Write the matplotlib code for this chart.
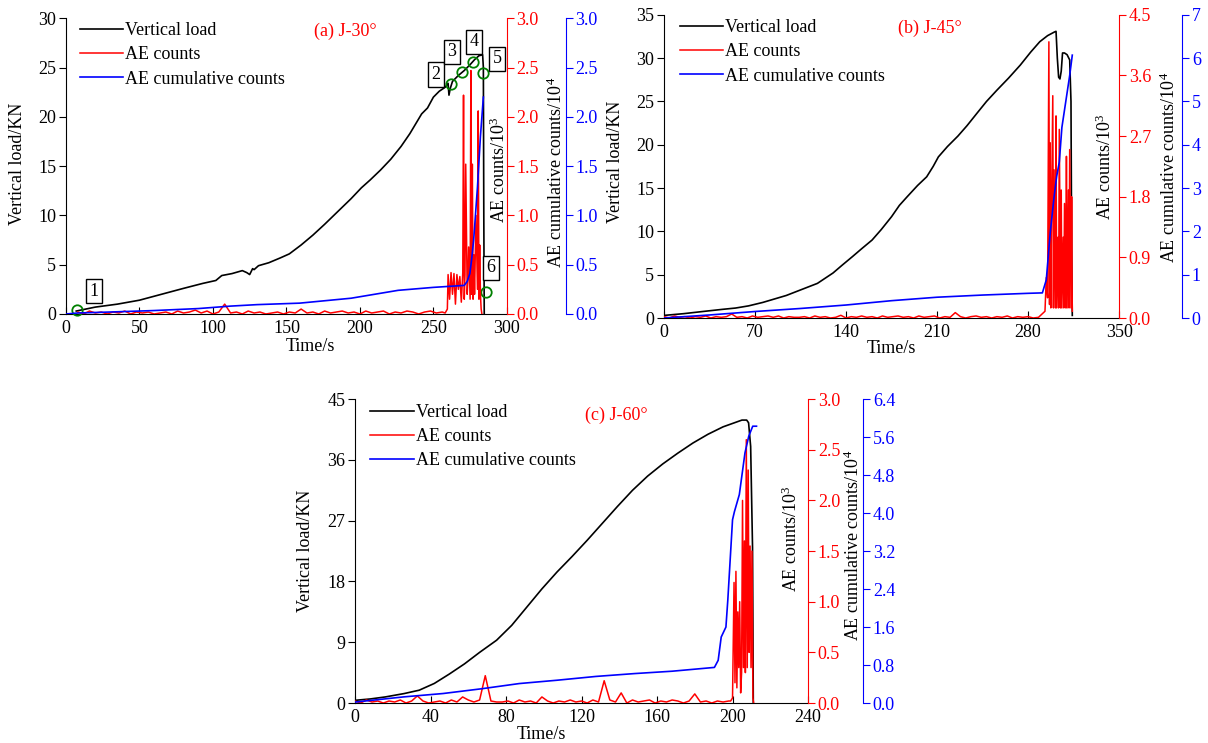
import numpy as np
import matplotlib
matplotlib.use('Agg')
import matplotlib.pyplot as plt

plt.rcParams['font.family'] = ['Liberation Serif', 'DejaVu Serif']
plt.rcParams['mathtext.fontset'] = 'custom'
plt.rcParams['mathtext.rm'] = 'Liberation Serif'
plt.rcParams['mathtext.it'] = 'Liberation Serif:italic'
plt.rcParams['font.size'] = 13

# ---------------- (a) J-30 ----------------
load_t_a = [7, 20, 35, 50, 65, 80, 93, 102, 106, 113, 120, 123, 125, 127, 128, 131, 138, 146, 152,
            160, 168, 176, 185, 194, 201, 207, 214, 221, 228, 234, 238, 242, 246, 250, 254, 258,
            260, 260.6, 261.5, 263, 267, 271, 275, 278, 281, 283.5, 284, 284.3, 284.6]
load_a = [0.3, 0.7, 1.0, 1.4, 2.0, 2.6, 3.1, 3.4, 3.9, 4.1, 4.4, 4.2, 4.0, 4.6, 4.5, 4.9, 5.2, 5.7, 6.1,
          7.0, 8.0, 9.1, 10.4, 11.7, 12.8, 13.6, 14.6, 15.7, 17.0, 18.3, 19.3, 20.3, 20.9, 22.0, 22.6, 23.0,
          23.4, 22.2, 22.9, 23.6, 24.2, 24.7, 25.3, 25.8, 26.2, 26.3, 25.0, 10.0, 0.0]

quiet_a = [0.02, 0.0, 0.03, 0.01, 0.02, 0.0, 0.02, 0.01, 0.03, 0.0,
           0.02, 0.01, 0.02, 0.0, 0.01, 0.02, 0.0, 0.03, 0.01, 0.02,
           0.04, 0.01, 0.03, 0.0, 0.02, 0.10, 0.01, 0.02, 0.0, 0.03,
           0.01, 0.02, 0.0, 0.01, 0.02, 0.0, 0.02, 0.01, 0.05, 0.01,
           0.02, 0.0, 0.03, 0.01, 0.02, 0.03, 0.01, 0.02, 0.0, 0.03,
           0.01, 0.02, 0.03, 0.0, 0.02, 0.01, 0.03, 0.02, 0.0, 0.02,
           0.03, 0.01, 0.02]
burst_t_a = [258, 259.5, 260, 261, 262, 263, 264, 265, 266, 267, 268, 269, 270, 270.5, 271, 271.5,
             272, 273, 273.5, 274, 275, 275.5, 276, 276.5, 277, 277.5, 278, 279, 280, 280.5, 281,
             281.5, 282, 282.5, 283]
burst_a = [0.01, 0.05, 0.4, 0.15, 0.42, 0.2, 0.41, 0.1, 0.4, 0.25, 0.38, 0.12, 0.42, 2.22, 0.15, 0.4,
           1.52, 0.2, 0.35, 0.68, 0.15, 2.47, 0.2, 1.52, 0.15, 0.6, 0.2, 1.0, 0.25, 2.06, 0.15,
           0.7, 0.2, 0.05, 0.0]

cum_t_a = [0, 8, 30, 60, 90, 112, 130, 159, 180, 194, 210, 226, 250, 271, 273, 274.8, 276, 277.4,
           280, 282, 284]
cum_a = [0.0, 0.01, 0.02, 0.035, 0.055, 0.08, 0.095, 0.11, 0.14, 0.16, 0.2, 0.24, 0.27, 0.29, 0.33,
         0.41, 0.55, 0.75, 1.29, 1.8, 2.2]

circle_t_a = [7.5, 261.9, 269.4, 276.9, 283.7, 285.7]
circle_y_a = [0.4, 23.3, 24.6, 25.6, 24.4, 2.2]
box_t_a = [19, 251.7, 262.6, 277.6, 293.2, 289]
box_y_a = [2.3, 24.3, 26.6, 27.6, 25.9, 4.7]
box_labels = ['1', '2', '3', '4', '5', '6']

# ---------------- (b) J-45 ----------------
load_t_b = [0, 15, 31, 45, 55, 65, 76, 85, 94, 106, 118, 125, 130, 137, 145, 152, 160, 167, 175, 181,
            187, 195, 202, 207, 211, 218, 226, 233, 241, 248, 256, 265, 274, 282, 289, 295, 300,
            301.5, 302.5, 303.5, 304.5, 305.5, 306.5, 308, 310, 312, 313, 313.5, 314]
load_b = [0.3, 0.5, 0.77, 1.0, 1.15, 1.4, 1.8, 2.2, 2.6, 3.3, 4.0, 4.7, 5.2, 6.1, 7.1, 8.0, 9.0, 10.2,
          11.7, 13.0, 14.0, 15.3, 16.3, 17.5, 18.6, 19.8, 21.0, 22.2, 23.7, 25.0, 26.3, 27.7, 29.2,
          30.7, 31.9, 32.6, 33.0, 33.1, 30.0, 27.8, 27.6, 28.5, 30.6, 30.6, 30.4, 29.8, 25.0, 8.0, 0.3]

quiet_b = [0.02, 0.0, 0.03, 0.01, 0.02, 0.0, 0.02, 0.01, 0.03, 0.0,
           0.02, 0.01, 0.02, 0.06, 0.01, 0.02, 0.0, 0.03, 0.01, 0.02,
           0.03, 0.01, 0.03, 0.0, 0.02, 0.01, 0.01, 0.02, 0.0, 0.03,
           0.01, 0.02, 0.0, 0.01, 0.04, 0.0, 0.02, 0.01, 0.03, 0.01,
           0.02, 0.0, 0.03, 0.01, 0.02, 0.03, 0.01, 0.02, 0.0, 0.03,
           0.01, 0.02, 0.03, 0.0, 0.02, 0.01, 0.08, 0.02, 0.0, 0.02,
           0.03, 0.01, 0.02, 0.0, 0.02, 0.01, 0.03, 0.0, 0.02, 0.01,
           0.02, 0.0, 0.01]
burst_t_b = [293, 294, 295, 296, 296.5, 297, 297.5, 298, 299, 299.5, 300, 301, 301.5, 302, 303, 303.5,
             304, 305, 305.5, 306, 307, 307.5, 308, 309, 309.5, 310, 311, 311.5, 312, 313, 313.5, 314]
burst_b = [0.1, 0.6, 0.3, 4.1, 0.2, 2.6, 0.15, 1.5, 3.3, 0.15, 2.2, 0.15, 3.0, 0.15, 1.2, 0.15, 2.8,
           0.15, 1.9, 0.15, 1.2, 0.15, 1.7, 0.15, 2.4, 0.15, 1.9, 0.15, 2.5, 0.15, 1.8, 0.1]

cum_t_b = [0, 35, 70, 105, 140, 175, 210, 245, 280, 291, 294, 297, 300, 302, 304, 306, 309, 312, 314]
cum_b = [0.0, 0.07, 0.15, 0.22, 0.3, 0.4, 0.48, 0.53, 0.57, 0.58, 0.88, 1.96, 2.8, 3.27, 3.6, 4.4,
         5.0, 5.6, 6.07]

# ---------------- (c) J-60 ----------------
load_t_c = [0, 8, 16, 26, 34, 42, 50, 58, 66, 75, 83, 91, 99, 107, 115, 123, 131, 139, 147, 155, 163,
            171, 179, 187, 195, 201, 205, 207.5, 208.5, 209.6, 210.6, 211]
load_c = [0.4, 0.6, 0.9, 1.4, 1.9, 2.9, 4.3, 5.8, 7.5, 9.3, 11.5, 14.2, 16.9, 19.4, 21.7, 24.1, 26.6,
          29.1, 31.5, 33.6, 35.4, 37.0, 38.5, 39.8, 40.9, 41.5, 41.9, 41.9, 41.5, 38.0, 23.0, 0.0]

quiet_c = [0.02, 0.0, 0.03, 0.01, 0.02, 0.0, 0.02, 0.01, 0.03, 0.0,
           0.02, 0.07, 0.02, 0.0, 0.01, 0.02, 0.0, 0.03, 0.01, 0.06,
           0.03, 0.01, 0.03, 0.27, 0.02, 0.01, 0.01, 0.02, 0.0, 0.03,
           0.01, 0.02, 0.0, 0.06, 0.02, 0.0, 0.02, 0.01, 0.03, 0.01,
           0.02, 0.0, 0.03, 0.01, 0.22, 0.03, 0.01, 0.10, 0.0, 0.03,
           0.01, 0.02, 0.03, 0.0, 0.02, 0.01, 0.03, 0.02, 0.0, 0.02,
           0.09, 0.01, 0.02, 0.0, 0.02, 0.01, 0.02]
burst_t_c = [199, 200, 200.8, 201.3, 201.8, 202.3, 202.8, 203.3, 203.8, 204.3, 204.8, 205.3, 205.8,
             206.3, 206.8, 207.3, 207.8, 208.3, 208.8, 209.3, 209.8, 210.3, 210.8, 211.2]
burst_c = [0.02, 0.05, 1.19, 0.2, 1.3, 0.15, 0.9, 0.35, 1.0, 0.1, 0.3, 2.0, 0.35, 1.6, 0.3, 2.6, 0.35,
           2.3, 0.5, 1.55, 0.35, 1.5, 0.05, 0.0]

cum_t_c = [0, 26, 46.6, 67, 87, 107, 127.6, 148, 168, 190.4, 192.4, 194, 196.5, 197.5, 200, 201,
           203.6, 206.6, 208.6, 210.7, 212.7]
cum_c = [0.02, 0.13, 0.2, 0.3, 0.41, 0.48, 0.56, 0.62, 0.67, 0.75, 0.9, 1.39, 1.6, 2.17, 3.86, 4.03,
         4.39, 5.27, 5.62, 5.83, 5.83]


def draw_panel(rect, load_t, load, ae_t, ae, cum_t, cum, xmax, xstep, ymax, ystep,
               rmax, rstep, bmax, bstep, bfmt, title, blue_off_px, lab):
    ax = fig.add_axes(rect)
    ax2 = ax.twinx()
    ax3 = ax.twinx()

    l1, = ax.plot(load_t, load, color='black', lw=1.2, label='Vertical load')
    l2, = ax2.plot(ae_t, ae, color='red', lw=1.1, label='AE counts')
    l3, = ax3.plot(cum_t, cum, color='blue', lw=1.2, label='AE cumulative counts')

    ax.set_xlim(0, xmax)
    ax.set_xticks(np.arange(0, xmax + 1, xstep))
    ax.set_ylim(0, ymax)
    ax.set_yticks(np.arange(0, ymax + 0.01, ystep))
    ax2.set_ylim(0, rmax)
    ax2.set_yticks(np.arange(0, rmax + 0.001, rstep))
    ax2.yaxis.set_major_formatter(plt.FormatStrFormatter('%.1f'))
    ax3.set_ylim(0, bmax)
    ax3.set_yticks(np.arange(0, bmax + 0.001, bstep))
    ax3.yaxis.set_major_formatter(plt.FormatStrFormatter(bfmt))

    for a in (ax, ax2, ax3):
        a.spines['top'].set_visible(False)
        a.patch.set_visible(False)
    ax.spines['right'].set_visible(False)
    for a in (ax2, ax3):
        a.spines['left'].set_visible(False)
        a.spines['bottom'].set_visible(False)
    ax2.spines['right'].set_color('red')
    ax3.spines['right'].set_color('blue')
    # outward offset is in points
    ax3.spines['right'].set_position(('outward', blue_off_px * 0.72))

    ax.tick_params(axis='x', direction='in', length=5, pad=4)
    ax.tick_params(axis='y', direction='out', length=5, pad=2)
    ax2.tick_params(axis='y', direction='out', length=5, pad=2, colors='red')
    ax3.tick_params(axis='y', direction='out', length=5, pad=2, colors='blue')

    ax.text(lab['vl'][0], lab['vl'][1], 'Vertical load/KN', transform=ax.transAxes,
            rotation=90, ha='center', va='center')
    ax.text(lab['ae'][0], lab['ae'][1], 'AE counts/10$^3$', transform=ax.transAxes,
            rotation=90, ha='center', va='center')
    ax.text(lab['cu'][0], lab['cu'][1], 'AE cumulative counts/10$^4$', transform=ax.transAxes,
            rotation=90, ha='center', va='center')
    ax.text(lab['ts'][0], lab['ts'][1], 'Time/s', transform=ax.transAxes,
            ha='center', va='center')
    ax3.text(lab['ti'][0], lab['ti'][1], title, transform=ax.transAxes, color='red',
             ha='center', va='center')

    ax3.legend([l1, l2, l3], [l1.get_label(), l2.get_label(), l3.get_label()],
               loc='upper left', bbox_to_anchor=(lab['lg'][0], lab['lg'][1]),
               frameon=False, borderpad=0, borderaxespad=0, handlelength=2.4,
               handletextpad=0.1, labelspacing=0.4, fontsize=13)
    return ax, ax2, ax3


fig = plt.figure(figsize=(12.08, 7.43), dpi=100)

ae_t_a = np.concatenate([8 + 4 * np.arange(len(quiet_a)), burst_t_a])
ae_a = np.concatenate([quiet_a, burst_a])
axa, _, axa3 = draw_panel([0.0546, 0.5774, 0.365, 0.398], load_t_a, load_a, ae_t_a, ae_a,
                          cum_t_a, cum_a, 300, 50, 30, 5, 3.0, 0.5, 3.0, 0.5, '%.1f', '(a) J-30°', 59,
                          {'vl': (-0.110, 0.506), 'ae': (0.982, 0.489), 'cu': (1.112, 0.48),
                           'ts': (0.555, -0.11), 'ti': (0.634, 0.957), 'lg': (0.031, 0.987)})
axa.plot(circle_t_a, circle_y_a, 'o', ms=7.5, mfc='none', mec='green', mew=1.3,
         clip_on=False, zorder=5)
for bt, by, bl in zip(box_t_a, box_y_a, box_labels):
    axa.text(bt, by, bl, ha='center', va='center', fontsize=13, zorder=6,
             bbox=dict(boxstyle='square,pad=0.2', fc='white', ec='black', lw=1.0))

ae_t_b = np.concatenate([0 + 4 * np.arange(len(quiet_b)), burst_t_b])
ae_b = np.concatenate([quiet_b, burst_b])
draw_panel([0.5497, 0.572, 0.3767, 0.408], load_t_b, load_b, ae_t_b, ae_b,
           cum_t_b, cum_b, 350, 70, 35, 5, 4.5, 0.9, 7, 1, '%d', '(b) J-45°', 63,
           {'vl': (-0.107, 0.516), 'ae': (0.970, 0.50), 'cu': (1.111, 0.498),
            'ts': (0.50, -0.10), 'ti': (0.585, 0.956), 'lg': (0.034, 0.986)})

ae_t_c = np.concatenate([0 + 3 * np.arange(len(quiet_c)), burst_t_c])
ae_c = np.concatenate([quiet_c, burst_c])
draw_panel([0.2939, 0.0538, 0.375, 0.409], load_t_c, load_c, ae_t_c, ae_c,
           cum_t_c, cum_c, 240, 40, 45, 9, 3.0, 0.5, 6.4, 0.8, '%.1f', '(c) J-60°', 55,
           {'vl': (-0.110, 0.501), 'ae': (0.962, 0.54), 'cu': (1.101, 0.52),
            'ts': (0.411, -0.105), 'ti': (0.576, 0.948), 'lg': (0.034, 0.984)})

fig.savefig('out.png', dpi=100)
